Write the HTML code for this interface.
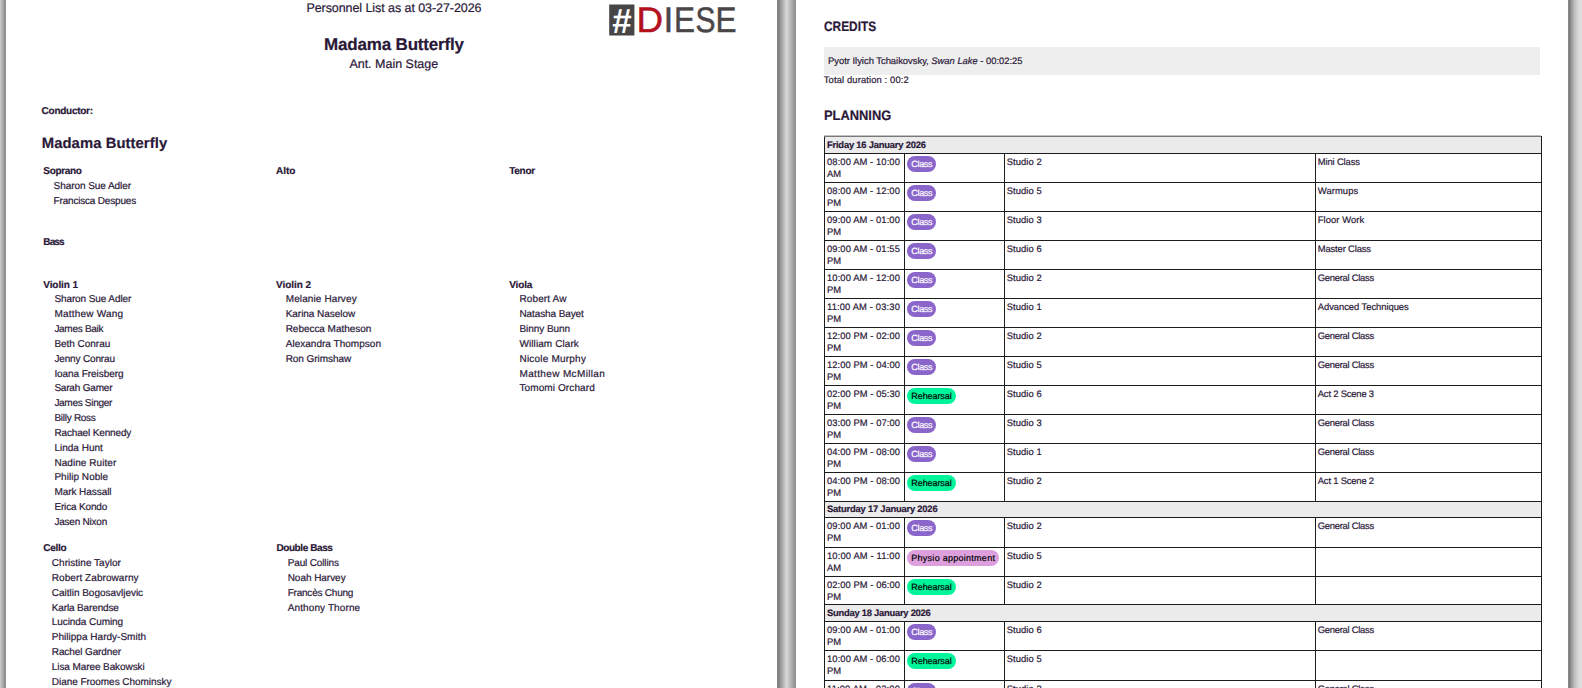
<!DOCTYPE html>
<html lang="en">
<head>
<meta charset="utf-8">
<title>Madama Butterfly - Personnel List / Planning</title>
<style>
html,body{margin:0;padding:0}
body{width:1582px;height:688px;overflow:hidden;position:relative;
 font-family:"Liberation Sans",sans-serif;color:#2a1838;
 text-rendering:geometricPrecision;-webkit-text-stroke:0.2px;
 background:linear-gradient(90deg,#cdcdcd 0px,#8f8f8f 5px,#8c8c8c 6px,
  #8c8c8c 777px,#7a7a7a 778px,#d9d9d9 786.5px,#929292 795px,#929292 796px,
  #929292 1568px,#7a7a7a 1569.3px,#bababa 1574px,#d6d6d6 1578px,#e1e1e1 1582px)}
.page{position:absolute;top:0;height:688px;background:#fff;overflow:hidden}
#p1{left:6px;width:771px}
#p2{left:796px;width:772px}
.t{position:absolute;white-space:nowrap;line-height:16px}
.sub{font-size:12.5px}
.h1{font-size:17.0px;font-weight:700}
.h2{font-size:14.8px;font-weight:700}
.b{font-size:10.0px;font-weight:700}
.n{font-size:10.0px}
#logo{position:absolute;left:594px;top:0;width:140px;height:40px}
/* right page */
.sec span{display:inline-block;transform-origin:0 50%}
.sec{position:absolute;left:27.8px;font-size:13.7px;font-weight:700;line-height:16px;white-space:nowrap;margin:0}
#credits{top:19.2px}
#planning{top:108.0px}
#cbox{position:absolute;left:28px;top:47px;width:716px;height:27.6px;background:#eee}
#cbox p{position:absolute;left:4px;top:8px;margin:0;font-size:9.4px;line-height:12px;white-space:nowrap}
#total{position:absolute;left:27.8px;top:74.2px;margin:0;font-size:9.4px;line-height:12px;white-space:nowrap}
table{position:absolute;left:28px;top:136px;width:717px;border-collapse:collapse;table-layout:fixed;font-size:9.4px;line-height:12.2px}
#tline{position:absolute;left:28px;top:135px;width:717px;height:1px;background:#c0c0c0}
td,th{border:1px solid #1c1c1c;padding:0;vertical-align:top;text-align:left;overflow:hidden;white-space:nowrap}
tr{height:29px}
tr.day{height:17px}
tr.d0{height:17px}
tr.d1{height:16px}
th{background:#ebebeb;font-weight:700;padding:1.6px 0 0 2px;font-size:9.4px}
tr.d0 th{padding-top:1.5px;border-top-color:#787878}
tr.d1 th{padding-top:1.2px}
td{padding:2.2px 0 0 2px}
.c3,.c4{padding-left:1.8px}
.c2{padding:2.2px 0 0 2.1px}
.pill{display:inline-block;height:15.6px;line-height:16.8px;border-radius:8px;padding:0 4.2px;font-size:9px;vertical-align:top}
.pc{background:#8a65ca;color:#fff}
.pr{background:#00f59b;color:#000}
.pp{background:#dda0dd;color:#000}
</style>
</head>
<body>
<div class="page" id="p1">
<svg id="logo" viewBox="600 0 140 40">
<rect x="609.2" y="4.5" width="25.2" height="31" fill="#484547"/>
<text x="621.6" y="32.6" text-anchor="middle" font-family="Liberation Sans, sans-serif" font-weight="700" font-style="italic" font-size="35" fill="#fff">#</text>
<g font-family="Liberation Sans, sans-serif" font-size="35.6" fill="#4a4648" stroke="#4a4648" stroke-width="0.5">
<text x="636.6" y="32.4" fill="#b3111c" stroke="#b3111c" textLength="26.6" lengthAdjust="spacingAndGlyphs">D</text>
<text x="663.6" y="32.4">I</text>
<text x="674" y="32.4" textLength="21" lengthAdjust="spacingAndGlyphs">E</text>
<text x="695.4" y="32.4" textLength="20" lengthAdjust="spacingAndGlyphs">S</text>
<text x="715.6" y="32.4" textLength="21" lengthAdjust="spacingAndGlyphs">E</text>
</g>
</svg>
<div class="t sub" id="L0" style="left:300.4px;top:0px;letter-spacing:-0.068px">Personnel List as at 03-27-2026</div>
<div class="t h1" id="L1" style="left:318.1px;top:37px;letter-spacing:-0.184px">Madama Butterfly</div>
<div class="t sub" id="L2" style="left:343.4px;top:56px;letter-spacing:-0.010px">Ant. Main Stage</div>
<div class="t b" id="L3" style="left:35.6px;top:104px;letter-spacing:-0.269px">Conductor:</div>
<div class="t h2" id="L4" style="left:35.8px;top:136px;letter-spacing:0.078px">Madama Butterfly</div>
<div class="t b" id="L5" style="left:37.3px;top:164px;letter-spacing:-0.323px">Soprano</div>
<div class="t n" id="L6" style="left:47.6px;top:179px;letter-spacing:-0.062px">Sharon Sue Adler</div>
<div class="t n" id="L7" style="left:47.6px;top:194px;letter-spacing:-0.188px">Francisca Despues</div>
<div class="t b" id="L8" style="left:270.1px;top:164px;letter-spacing:-0.063px">Alto</div>
<div class="t b" id="L9" style="left:503.2px;top:164px;letter-spacing:-0.249px">Tenor</div>
<div class="t b" id="L10" style="left:37.3px;top:235px;letter-spacing:-0.877px">Bass</div>
<div class="t b" id="L11" style="left:37.3px;top:278px;letter-spacing:-0.099px">Violin 1</div>
<div class="t n" id="L12" style="left:48.4px;top:292px;letter-spacing:-0.099px">Sharon Sue Adler</div>
<div class="t n" id="L13" style="left:48.4px;top:307px;letter-spacing:0.223px">Matthew Wang</div>
<div class="t n" id="L14" style="left:48.4px;top:322px;letter-spacing:-0.289px">James Baik</div>
<div class="t n" id="L15" style="left:48.4px;top:337px;letter-spacing:-0.032px">Beth Conrau</div>
<div class="t n" id="L16" style="left:48.4px;top:352px;letter-spacing:-0.155px">Jenny Conrau</div>
<div class="t n" id="L17" style="left:48.4px;top:367px;letter-spacing:-0.070px">Ioana Freisberg</div>
<div class="t n" id="L18" style="left:48.4px;top:381px;letter-spacing:-0.194px">Sarah Gamer</div>
<div class="t n" id="L19" style="left:48.4px;top:396px;letter-spacing:-0.295px">James Singer</div>
<div class="t n" id="L20" style="left:48.4px;top:411px;letter-spacing:-0.271px">Billy Ross</div>
<div class="t n" id="L21" style="left:48.4px;top:426px;letter-spacing:-0.144px">Rachael Kennedy</div>
<div class="t n" id="L22" style="left:48.4px;top:441px;letter-spacing:0.013px">Linda Hunt</div>
<div class="t n" id="L23" style="left:48.4px;top:456px;letter-spacing:0.057px">Nadine Ruiter</div>
<div class="t n" id="L24" style="left:48.4px;top:470px;letter-spacing:0.035px">Philip Noble</div>
<div class="t n" id="L25" style="left:48.4px;top:485px;letter-spacing:-0.058px">Mark Hassall</div>
<div class="t n" id="L26" style="left:48.4px;top:500px;letter-spacing:-0.153px">Erica Kondo</div>
<div class="t n" id="L27" style="left:48.4px;top:515px;letter-spacing:-0.221px">Jasen Nixon</div>
<div class="t b" id="L28" style="left:270.1px;top:278px;letter-spacing:-0.061px">Violin 2</div>
<div class="t n" id="L29" style="left:279.7px;top:292px;letter-spacing:0.115px">Melanie Harvey</div>
<div class="t n" id="L30" style="left:279.7px;top:307px;letter-spacing:-0.039px">Karina Naselow</div>
<div class="t n" id="L31" style="left:279.7px;top:322px;letter-spacing:-0.042px">Rebecca Matheson</div>
<div class="t n" id="L32" style="left:279.7px;top:337px;letter-spacing:0.024px">Alexandra Thompson</div>
<div class="t n" id="L33" style="left:279.7px;top:352px;letter-spacing:-0.053px">Ron Grimshaw</div>
<div class="t b" id="L34" style="left:503.2px;top:278px;letter-spacing:-0.124px">Viola</div>
<div class="t n" id="L35" style="left:513.5px;top:292px;letter-spacing:0.116px">Robert Aw</div>
<div class="t n" id="L36" style="left:513.5px;top:307px;letter-spacing:-0.108px">Natasha Bayet</div>
<div class="t n" id="L37" style="left:513.5px;top:322px;letter-spacing:-0.056px">Binny Bunn</div>
<div class="t n" id="L38" style="left:513.5px;top:337px;letter-spacing:0.081px">William Clark</div>
<div class="t n" id="L39" style="left:513.5px;top:352px;letter-spacing:0.206px">Nicole Murphy</div>
<div class="t n" id="L40" style="left:513.5px;top:367px;letter-spacing:0.354px">Matthew McMillan</div>
<div class="t n" id="L41" style="left:513.5px;top:381px;letter-spacing:0.100px">Tomomi Orchard</div>
<div class="t b" id="L42" style="left:37.3px;top:541px;letter-spacing:-0.311px">Cello</div>
<div class="t n" id="L43" style="left:45.8px;top:556px;letter-spacing:0.023px">Christine Taylor</div>
<div class="t n" id="L44" style="left:45.8px;top:571px;letter-spacing:0.071px">Robert Zabrowarny</div>
<div class="t n" id="L45" style="left:45.8px;top:586px;letter-spacing:-0.020px">Caitlin Bogosavljevic</div>
<div class="t n" id="L46" style="left:45.8px;top:601px;letter-spacing:-0.138px">Karla Barendse</div>
<div class="t n" id="L47" style="left:45.8px;top:615px;letter-spacing:-0.069px">Lucinda Cuming</div>
<div class="t n" id="L48" style="left:45.8px;top:630px;letter-spacing:0.018px">Philippa Hardy-Smith</div>
<div class="t n" id="L49" style="left:45.8px;top:645px;letter-spacing:-0.107px">Rachel Gardner</div>
<div class="t n" id="L50" style="left:45.8px;top:660px;letter-spacing:-0.089px">Lisa Maree Bakowski</div>
<div class="t n" id="L51" style="left:45.8px;top:675px;letter-spacing:-0.044px">Diane Froomes Chominsky</div>
<div class="t b" id="L52" style="left:270.4px;top:541px;letter-spacing:-0.407px">Double Bass</div>
<div class="t n" id="L53" style="left:281.7px;top:556px;letter-spacing:-0.143px">Paul Collins</div>
<div class="t n" id="L54" style="left:281.7px;top:571px;letter-spacing:-0.042px">Noah Harvey</div>
<div class="t n" id="L55" style="left:281.7px;top:586px;letter-spacing:-0.221px">Francès Chung</div>
<div class="t n" id="L56" style="left:281.7px;top:601px;letter-spacing:0.115px">Anthony Thorne</div>
</div>
<div class="page" id="p2">
<h2 class="sec" id="credits"><span class="m R0" style="transform:scaleX(0.8672)">CREDITS</span></h2>
<div id="cbox"><p>Pyotr Ilyich Tchaikovsky, <i>Swan Lake</i> - 00:02:25</p></div>
<p id="total"><span class="m R1" style="letter-spacing:0.126px">Total duration : 00:2</span></p>
<h2 class="sec" id="planning"><span class="m R2" style="transform:scaleX(0.9401)">PLANNING</span></h2>
<div id="tline"></div>
<table>
<colgroup><col style="width:80px"><col style="width:100px"><col style="width:311px"><col style="width:226px"></colgroup>
<tr class="day d0"><th colspan="4"><span class="m R3" style="letter-spacing:-0.205px">Friday 16 January 2026</span></th></tr>
<tr><td class="c1"><span class="m R4" style="letter-spacing:0.100px">08:00 AM - 10:00</span><br>AM</td><td class="c2"><span class="m R5 pill pc" style="letter-spacing:-0.318px">Class</span></td><td class="c3"><span class="m R6" style="letter-spacing:0.062px">Studio 2</span></td><td class="c4"><span class="m R7" style="letter-spacing:-0.125px">Mini Class</span></td></tr>
<tr><td class="c1"><span class="m R8" style="letter-spacing:0.100px">08:00 AM - 12:00</span><br>PM</td><td class="c2"><span class="m R5 pill pc" style="letter-spacing:-0.318px">Class</span></td><td class="c3"><span class="m R9" style="letter-spacing:0.062px">Studio 5</span></td><td class="c4"><span class="m R10" style="letter-spacing:0.105px">Warmups</span></td></tr>
<tr><td class="c1"><span class="m R11" style="letter-spacing:0.100px">09:00 AM - 01:00</span><br>PM</td><td class="c2"><span class="m R5 pill pc" style="letter-spacing:-0.318px">Class</span></td><td class="c3"><span class="m R12" style="letter-spacing:0.062px">Studio 3</span></td><td class="c4"><span class="m R13" style="letter-spacing:0.073px">Floor Work</span></td></tr>
<tr><td class="c1"><span class="m R14" style="letter-spacing:0.100px">09:00 AM - 01:55</span><br>PM</td><td class="c2"><span class="m R5 pill pc" style="letter-spacing:-0.318px">Class</span></td><td class="c3"><span class="m R15" style="letter-spacing:0.062px">Studio 6</span></td><td class="c4"><span class="m R16" style="letter-spacing:-0.134px">Master Class</span></td></tr>
<tr><td class="c1"><span class="m R17" style="letter-spacing:0.100px">10:00 AM - 12:00</span><br>PM</td><td class="c2"><span class="m R5 pill pc" style="letter-spacing:-0.318px">Class</span></td><td class="c3"><span class="m R6" style="letter-spacing:0.062px">Studio 2</span></td><td class="c4"><span class="m R18" style="letter-spacing:-0.254px">General Class</span></td></tr>
<tr><td class="c1"><span class="m R19" style="letter-spacing:0.143px">11:00 AM - 03:30</span><br>PM</td><td class="c2"><span class="m R5 pill pc" style="letter-spacing:-0.318px">Class</span></td><td class="c3"><span class="m R20" style="letter-spacing:0.062px">Studio 1</span></td><td class="c4"><span class="m R21" style="letter-spacing:-0.035px">Advanced Techniques</span></td></tr>
<tr><td class="c1"><span class="m R22" style="letter-spacing:0.067px">12:00 PM - 02:00</span><br>PM</td><td class="c2"><span class="m R5 pill pc" style="letter-spacing:-0.318px">Class</span></td><td class="c3"><span class="m R6" style="letter-spacing:0.062px">Studio 2</span></td><td class="c4"><span class="m R18" style="letter-spacing:-0.254px">General Class</span></td></tr>
<tr><td class="c1"><span class="m R23" style="letter-spacing:0.067px">12:00 PM - 04:00</span><br>PM</td><td class="c2"><span class="m R5 pill pc" style="letter-spacing:-0.318px">Class</span></td><td class="c3"><span class="m R9" style="letter-spacing:0.062px">Studio 5</span></td><td class="c4"><span class="m R18" style="letter-spacing:-0.254px">General Class</span></td></tr>
<tr><td class="c1"><span class="m R24" style="letter-spacing:0.067px">02:00 PM - 05:30</span><br>PM</td><td class="c2"><span class="m R25 pill pr" style="letter-spacing:-0.078px">Rehearsal</span></td><td class="c3"><span class="m R15" style="letter-spacing:0.062px">Studio 6</span></td><td class="c4"><span class="m R26" style="letter-spacing:-0.175px">Act 2 Scene 3</span></td></tr>
<tr><td class="c1"><span class="m R27" style="letter-spacing:0.067px">03:00 PM - 07:00</span><br>PM</td><td class="c2"><span class="m R5 pill pc" style="letter-spacing:-0.318px">Class</span></td><td class="c3"><span class="m R12" style="letter-spacing:0.062px">Studio 3</span></td><td class="c4"><span class="m R18" style="letter-spacing:-0.254px">General Class</span></td></tr>
<tr><td class="c1"><span class="m R28" style="letter-spacing:0.067px">04:00 PM - 08:00</span><br>PM</td><td class="c2"><span class="m R5 pill pc" style="letter-spacing:-0.318px">Class</span></td><td class="c3"><span class="m R20" style="letter-spacing:0.062px">Studio 1</span></td><td class="c4"><span class="m R18" style="letter-spacing:-0.254px">General Class</span></td></tr>
<tr><td class="c1"><span class="m R28" style="letter-spacing:0.067px">04:00 PM - 08:00</span><br>PM</td><td class="c2"><span class="m R25 pill pr" style="letter-spacing:-0.078px">Rehearsal</span></td><td class="c3"><span class="m R6" style="letter-spacing:0.062px">Studio 2</span></td><td class="c4"><span class="m R29" style="letter-spacing:-0.175px">Act 1 Scene 2</span></td></tr>
<tr class="day d1"><th colspan="4"><span class="m R30" style="letter-spacing:-0.199px">Saturday 17 January 2026</span></th></tr>
<tr style="height:30px"><td class="c1"><span class="m R11" style="letter-spacing:0.100px">09:00 AM - 01:00</span><br>PM</td><td class="c2"><span class="m R5 pill pc" style="letter-spacing:-0.318px">Class</span></td><td class="c3"><span class="m R6" style="letter-spacing:0.062px">Studio 2</span></td><td class="c4"><span class="m R18" style="letter-spacing:-0.254px">General Class</span></td></tr>
<tr><td class="c1"><span class="m R31" style="letter-spacing:0.143px">10:00 AM - 11:00</span><br>AM</td><td class="c2"><span class="m R32 pill pp" style="letter-spacing:0.270px">Physio appointment</span></td><td class="c3"><span class="m R9" style="letter-spacing:0.062px">Studio 5</span></td><td class="c4"></td></tr>
<tr style="height:28px"><td class="c1"><span class="m R33" style="letter-spacing:0.067px">02:00 PM - 06:00</span><br>PM</td><td class="c2"><span class="m R25 pill pr" style="letter-spacing:-0.078px">Rehearsal</span></td><td class="c3"><span class="m R6" style="letter-spacing:0.062px">Studio 2</span></td><td class="c4"></td></tr>
<tr class="day d2"><th colspan="4"><span class="m R34" style="letter-spacing:-0.246px">Sunday 18 January 2026</span></th></tr>
<tr><td class="c1"><span class="m R11" style="letter-spacing:0.100px">09:00 AM - 01:00</span><br>PM</td><td class="c2"><span class="m R5 pill pc" style="letter-spacing:-0.318px">Class</span></td><td class="c3"><span class="m R15" style="letter-spacing:0.062px">Studio 6</span></td><td class="c4"><span class="m R18" style="letter-spacing:-0.254px">General Class</span></td></tr>
<tr style="height:30px"><td class="c1"><span class="m R35" style="letter-spacing:0.100px">10:00 AM - 06:00</span><br>PM</td><td class="c2"><span class="m R25 pill pr" style="letter-spacing:-0.078px">Rehearsal</span></td><td class="c3"><span class="m R9" style="letter-spacing:0.062px">Studio 5</span></td><td class="c4"></td></tr>
<tr><td class="c1"><span class="m R36" style="letter-spacing:0.143px">11:00 AM - 03:00</span><br>PM</td><td class="c2"><span class="m R5 pill pc" style="letter-spacing:-0.318px">Class</span></td><td class="c3"><span class="m R12" style="letter-spacing:0.062px">Studio 3</span></td><td class="c4"><span class="m R18" style="letter-spacing:-0.254px">General Class</span></td></tr>
</table>
</div>
</body>
</html>
